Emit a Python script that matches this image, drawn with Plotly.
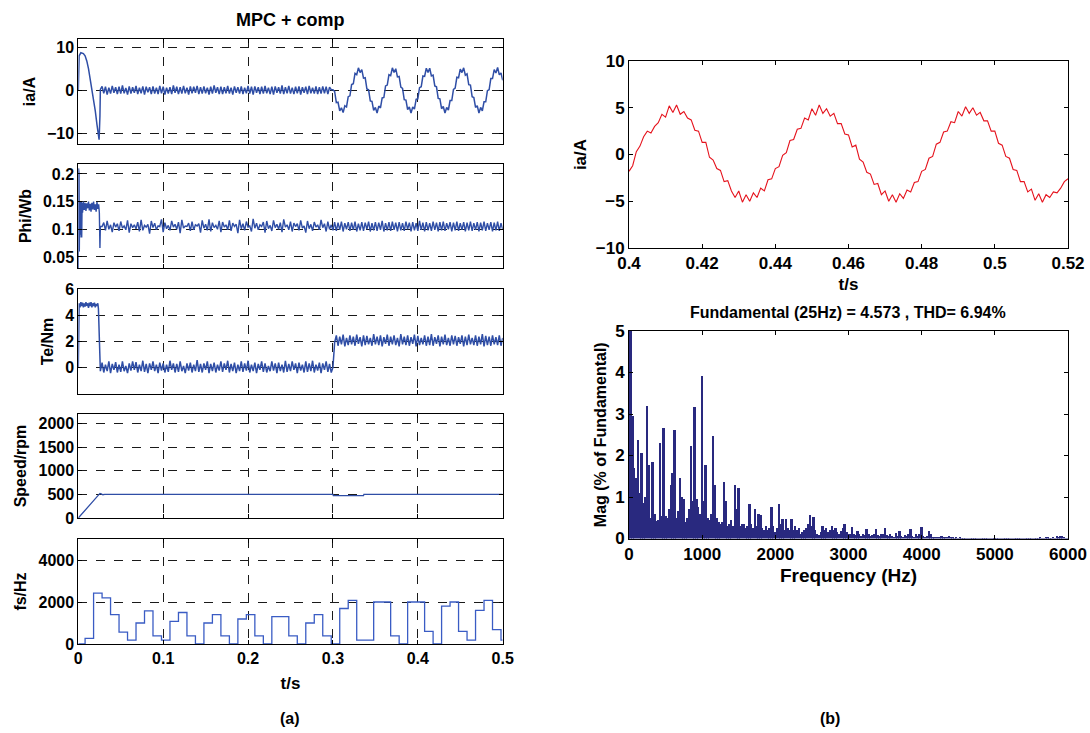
import plotly.graph_objects as go

W, H = 1090, 733

# ---------------- data: left panel (a) ----------------
# ia/A : start-up transient, flat noisy segment (0.028..0.298 s, 2 ms grid), sinusoid (0.300..0.500 s, 2 ms grid)
ia_head_t = [0.0, 0.001, 0.003, 0.006, 0.008, 0.010, 0.012, 0.014, 0.016, 0.018, 0.020, 0.022, 0.0235, 0.0245, 0.0255, 0.026]
ia_head_v = [0.0, 8.0, 8.7, 8.5, 8.0, 6.8, 5.0, 2.8, 0.3, -2.5, -4.8, -8.0, -10.5, -11.5, -6.0, 0.2]
ia_flat_start = 0.028
ia_flat_v = [
    0.9, -0.7, 0.8, -1.0, 0.6, -0.8, 1.0, -0.6, 0.7, -0.9,
    0.8, -0.8, 1.1, -0.7, 0.5, -1.0, 0.9, -0.8, 0.7, -0.6,
    1.0, -0.9, 0.6, -0.7, 0.9, -1.0, 0.8, -0.5, 0.7, -0.9,
    0.9, -0.8, 0.6, -0.9, 1.0, -0.7, 0.8, -1.0, 0.6, -0.8,
    0.7, -0.9, 1.1, -0.6, 0.8, -0.9, 0.7, -0.8, 1.0, -0.7,
    0.6, -1.0, 0.9, -0.7, 0.8, -0.6, 1.0, -0.9, 0.7, -0.8,
    0.9, -0.7, 0.6, -1.0, 0.8, -0.8, 1.1, -0.6, 0.7, -0.9,
    0.8, -0.9, 0.7, -0.7, 1.0, -0.8, 0.6, -1.0, 0.9, -0.6,
    0.7, -0.8, 0.9, -0.9, 0.6, -0.7, 1.0, -0.8, 0.8, -1.0,
    0.9, -0.6, 0.7, -0.9, 0.8, -0.8, 1.0, -0.7, 0.6, -0.9,
    0.8, -1.0, 0.9, -0.6, 0.7, -0.8, 1.1, -0.9, 0.7, -0.7,
    1.0, -0.8, 0.6, -0.9, 0.8, -0.7, 0.9, -1.0, 0.7, -0.6,
    0.8, -0.9, 1.0, -0.7, 0.6, -0.8, 0.9, -0.9, 0.7, -0.8,
    0.9, -0.7, 0.8, -0.9, 0.7, 0.1,
]
ia_wave_start = 0.300
ia_wave_v = [
    0.1, -0.3, -2.9, -2.8, -4.8, -4.1, -5.2, -3.6, -3.9, -1.5,
    -1.3, 1.3, 1.5, 3.9, 3.6, 5.2, 4.1, 4.8, 2.8, 2.9,
    0.3, 0.1, -2.5, -2.6, -4.7, -4.0, -5.3, -3.7, -4.1, -1.8,
    -1.7, 1.0, 1.2, 3.6, 3.4, 5.2, 4.1, 5.0, 3.1, 3.2,
    0.7, 0.4, -2.2, -2.3, -4.5, -3.9, -5.3, -3.9, -4.4, -2.1,
    -2.0, 0.6, 0.8, 3.3, 3.2, 5.1, 4.1, 5.1, 3.3, 3.5,
    1.0, 0.8, -1.9, -2.0, -4.3, -3.8, -5.3, -4.0, -4.6, -2.4,
    -2.4, 0.2, 0.5, 3.0, 2.9, 4.9, 4.1, 5.2, 3.5, 3.8,
    1.3, 1.2, -1.5, -1.7, -4.0, -3.6, -5.3, -4.0, -4.8, -2.7,
    -2.7, -0.1, 0.1, 2.7, 2.7, 4.8, 4.0, 5.3, 3.6, 4.0,
    2.3,
]

# Phi/Wb
phi_head_t = [0.0, 0.0003, 0.0006, 0.0009, 0.0012, 0.0016, 0.002, 0.0025, 0.003, 0.0035, 0.004, 0.0045,
              0.005, 0.006, 0.007, 0.008, 0.009, 0.010, 0.011, 0.012, 0.013, 0.014, 0.015, 0.016,
              0.017, 0.018, 0.019, 0.020, 0.021, 0.022, 0.023, 0.024, 0.0248, 0.0255, 0.026]
phi_head_v = [0.03, 0.21, 0.04, 0.20, 0.06, 0.15, 0.085, 0.15, 0.09, 0.15, 0.085, 0.148,
              0.13, 0.15, 0.135, 0.148, 0.133, 0.147, 0.138, 0.15, 0.134, 0.146, 0.132, 0.148,
              0.136, 0.15, 0.135, 0.145, 0.132, 0.149, 0.137, 0.145, 0.13, 0.066, 0.105]
phi_pre_start = 0.028
phi_pre_v = [
    0.105, 0.112, 0.098, 0.115, 0.100, 0.108, 0.095, 0.112, 0.104, 0.110,
    0.097, 0.114, 0.102, 0.106, 0.099, 0.116, 0.094, 0.110, 0.103, 0.108,
    0.101, 0.113, 0.096, 0.117, 0.098, 0.107, 0.104, 0.109, 0.092, 0.115,
    0.103, 0.111, 0.099, 0.106, 0.105, 0.118, 0.095, 0.112, 0.101, 0.107,
    0.098, 0.115, 0.104, 0.109, 0.100, 0.113, 0.093, 0.117, 0.102, 0.106,
    0.105, 0.111, 0.097, 0.114, 0.099, 0.108, 0.106, 0.110, 0.094, 0.116,
    0.102, 0.109, 0.098, 0.118, 0.096, 0.112, 0.103, 0.107, 0.100, 0.115,
    0.095, 0.113, 0.104, 0.108, 0.099, 0.116, 0.097, 0.111, 0.105, 0.109,
    0.093, 0.117, 0.101, 0.110, 0.098, 0.114, 0.104, 0.106, 0.096, 0.119,
    0.102, 0.111, 0.099, 0.108, 0.105, 0.113, 0.094, 0.115, 0.101, 0.107,
    0.097, 0.116, 0.103, 0.109, 0.100, 0.112, 0.095, 0.118, 0.104, 0.108,
    0.099, 0.114, 0.096, 0.111, 0.105, 0.110, 0.098, 0.116, 0.102, 0.106,
    0.094, 0.115, 0.101, 0.109, 0.097, 0.113, 0.104, 0.108, 0.099, 0.117,
    0.103, 0.110, 0.096, 0.114, 0.100, 0.108,
]
phi_post_start = 0.300
phi_post_v = [
    0.098, 0.113, 0.097, 0.112, 0.099, 0.114, 0.096, 0.111, 0.100, 0.113,
    0.097, 0.112, 0.099, 0.114, 0.096, 0.110, 0.098, 0.113, 0.097, 0.112,
    0.100, 0.114, 0.096, 0.111, 0.098, 0.113, 0.097, 0.112, 0.099, 0.115,
    0.096, 0.111, 0.098, 0.113, 0.097, 0.114, 0.099, 0.112, 0.096, 0.113,
    0.098, 0.111, 0.097, 0.114, 0.100, 0.112, 0.096, 0.113, 0.098, 0.111,
    0.097, 0.115, 0.099, 0.112, 0.096, 0.113, 0.098, 0.111, 0.097, 0.114,
    0.099, 0.112, 0.096, 0.113, 0.098, 0.114, 0.097, 0.111, 0.100, 0.113,
    0.096, 0.112, 0.098, 0.114, 0.097, 0.111, 0.099, 0.113, 0.096, 0.112,
    0.098, 0.114, 0.097, 0.111, 0.099, 0.113, 0.096, 0.112, 0.098, 0.114,
    0.097, 0.111, 0.099, 0.113, 0.096, 0.112, 0.098, 0.114, 0.097, 0.111,
    0.100,
]

# Te/Nm
te_head_t = [0.0, 0.0005, 0.001, 0.002, 0.003, 0.004, 0.005, 0.006, 0.007, 0.008, 0.009, 0.010, 0.011,
             0.012, 0.013, 0.014, 0.015, 0.016, 0.017, 0.018, 0.019, 0.020, 0.021, 0.022, 0.023,
             0.0237, 0.0245, 0.0252, 0.026]
te_head_v = [0.0, 4.6, 4.9, 4.6, 5.0, 4.7, 4.95, 4.6, 4.9, 4.65, 5.0, 4.7, 4.9,
             4.55, 4.95, 4.7, 5.0, 4.6, 4.9, 4.7, 4.95, 4.6, 4.85, 4.7, 4.9,
             4.5, 2.4, 0.6, -0.3]
te_low_start = 0.028
te_low_v = [
    0.35, -0.4, 0.2, -0.3, 0.45, -0.45, 0.25, -0.2, 0.4, -0.4,
    0.2, -0.35, 0.45, -0.3, 0.1, -0.45, 0.3, -0.25, 0.45, -0.2,
    0.4, -0.4, 0.2, -0.3, 0.5, -0.35, 0.25, -0.45, 0.3, -0.2,
    0.45, -0.3, 0.2, -0.45, 0.35, -0.25, 0.3, -0.4, 0.2, -0.35,
    0.5, -0.2, 0.3, -0.4, 0.25, -0.35, 0.45, -0.3, 0.1, -0.45,
    0.3, -0.25, 0.35, -0.4, 0.2, -0.3, 0.55, -0.35, 0.25, -0.4,
    0.3, -0.2, 0.45, -0.45, 0.25, -0.3, 0.35, -0.4, 0.2, -0.25,
    0.45, -0.35, 0.3, -0.2, 0.5, -0.4, 0.25, -0.3, 0.35, -0.45,
    0.2, -0.3, 0.45, -0.35, 0.3, -0.25, 0.5, -0.4, 0.2, -0.3,
    0.35, -0.45, 0.25, -0.2, 0.45, -0.35, 0.3, -0.4, 0.1, -0.3,
    0.45, -0.25, 0.3, -0.45, 0.35, -0.3, 0.2, -0.4, 0.5, -0.35,
    0.25, -0.3, 0.45, -0.2, 0.3, -0.45, 0.35, -0.25, 0.2, -0.4,
    0.45, -0.35, 0.3, -0.3, 0.5, -0.4, 0.2, -0.25, 0.35, -0.45,
    0.3, -0.2, 0.45, -0.35, 0.25, -0.4,
]
te_step_t = [0.300, 0.302]
te_step_v = [0.0, 1.9]
te_high_start = 0.304
te_high_v = [
    2.45, 1.65, 2.35, 1.75, 2.5, 1.6, 2.25, 1.7, 2.45, 1.75,
    2.35, 1.65, 2.5, 1.8, 2.3, 1.6, 2.45, 1.7, 2.4, 1.75,
    2.25, 1.65, 2.55, 1.75, 2.35, 1.7, 2.45, 1.6, 2.3, 1.8,
    2.5, 1.65, 2.35, 1.75, 2.45, 1.7, 2.25, 1.6, 2.55, 1.75,
    2.35, 1.7, 2.45, 1.65, 2.3, 1.8, 2.5, 1.6, 2.4, 1.7,
    2.25, 1.75, 2.45, 1.65, 2.35, 1.7, 2.55, 1.65, 2.3, 1.8,
    2.45, 1.6, 2.35, 1.75, 2.5, 1.7, 2.25, 1.65, 2.45, 1.75,
    2.4, 1.65, 2.3, 1.8, 2.45, 1.6, 2.35, 1.7, 2.5, 1.75,
    2.25, 1.7, 2.45, 1.65, 2.35, 1.75, 2.55, 1.6, 2.4, 1.7,
    2.35, 1.65, 2.45, 1.75, 2.3, 1.7, 2.45, 1.65, 2.25,
]

# Speed/rpm
speed_t = [0.0, 0.0255, 0.027, 0.029, 0.031, 0.300, 0.3005, 0.336, 0.3365, 0.5]
speed_v = [0, 520, 510, 492, 500, 500, 472, 472, 500, 500]

# fs/Hz (staircase, value holds until next time)
fs_t = [0.0, 0.008, 0.018, 0.028, 0.038, 0.048, 0.058, 0.068, 0.078, 0.088, 0.098, 0.108, 0.118,
        0.128, 0.138, 0.148, 0.158, 0.168, 0.178, 0.188, 0.198, 0.208, 0.218, 0.228, 0.238,
        0.248, 0.258, 0.268, 0.278, 0.288, 0.298, 0.308, 0.318, 0.328, 0.338, 0.348, 0.358,
        0.368, 0.378, 0.388, 0.398, 0.408, 0.418, 0.428, 0.438, 0.448, 0.458, 0.468, 0.478,
        0.488, 0.498, 0.5]
fs_v = [0, 270, 2420, 2200, 1400, 570, 180, 1000, 1580, 390, 180, 1080, 1500,
        390, 0, 1000, 1400, 390, 0, 1190, 1400, 390, 0, 1300, 1300,
        390, 0, 1000, 1400, 390, 0, 1690, 2080, 180, 180, 2000, 2000,
        390, 0, 2000, 2000, 600, 0, 1800, 2000, 600, 180, 1600, 2080,
        680, 180, 180]

# ---------------- data: right panel (b) ----------------
iaz_start = 0.400
iaz_step = 0.001
iaz_v = [
    -1.8, -1.2, 0.3, 0.9, 1.9, 2.5, 2.3, 3.0, 3.4, 4.3,
    4.0, 5.2, 4.5, 5.3, 4.3, 4.6, 3.9, 3.7, 2.6, 2.5,
    1.3, 1.3, -0.3, -0.6, -1.5, -1.7, -2.9, -2.8, -3.9, -4.6,
    -3.9, -5.1, -4.3, -5.0, -4.1, -4.6, -3.6, -3.9, -2.7, -2.6,
    -1.5, -1.3, -0.1, 0.2, 1.5, 1.6, 2.7, 2.8, 3.9, 3.7,
    4.9, 4.2, 5.3, 4.4, 4.9, 4.1, 4.4, 3.3, 3.3, 2.2,
    2.1, 0.8, 1.0, -0.5, -0.8, -1.9, -2.1, -3.2, -3.1, -4.3,
    -3.9, -5.0, -4.3, -5.1, -4.2, -4.7, -3.8, -4.0, -3.0, -2.9,
    -1.8, -1.6, -0.4, -0.2, 1.1, 1.3, 2.4, 2.5, 3.5, 3.4,
    4.6, 4.1, 5.1, 4.4, 5.0, 4.2, 4.5, 3.6, 3.6, 2.5,
    2.5, 1.2, 1.0, -0.2, -0.4, -1.6, -1.7, -2.9, -2.9, -4.0,
    -3.7, -4.9, -4.2, -5.1, -4.3, -4.6, -4.0, -4.1, -3.6, -2.9,
    -2.6,
]

fft_freq = list(range(0, 6001, 25))
fft_mag = [
    1.5, 100, 2.95, 1.7, 1.46, 2.38, 1.1, 2.06,          # 0-175
    0.86, 1.0, 3.2, 1.78, 0.5, 1.85, 0.58, 0.42,         # 200-375
    0.45, 2.29, 0.55, 2.66, 0.55, 0.5, 0.7, 1.28,        # 400-575
    1.57, 2.62, 0.5, 0.66, 1.46, 1.0, 0.95, 0.4,         # 600-775
    0.5, 0.7, 2.22, 0.9, 3.17, 0.94, 0.75, 0.6,          # 800-975
    3.92, 0.9, 1.76, 0.5, 0.45, 0.6, 2.46, 1.3,          # 1000-1175
    0.5, 0.4, 0.35, 0.4, 1.36, 0.9, 0.3, 0.35,           # 1200-1375
    0.45, 0.3, 1.29, 0.7, 1.22, 0.3, 0.36, 0.34,         # 1400-1575
    0.25, 0.3, 0.82, 0.35, 0.25, 0.7, 0.3, 0.58,         # 1600-1775
    0.56, 0.25, 0.2, 0.3, 0.2, 0.25, 0.76, 0.3,          # 1800-1975
    0.15, 0.25, 0.82, 0.35, 0.46, 0.2, 0.47, 0.25,       # 2000-2175
    0.2, 0.46, 0.2, 0.3, 0.2, 0.26, 0.12, 0.15,          # 2200-2375
    0.2, 0.25, 0.35, 0.56, 0.3, 0.51, 0.2, 0.1,          # 2400-2575
    0.08, 0.15, 0.31, 0.2, 0.25, 0.15, 0.2, 0.31,        # 2600-2775
    0.2, 0.26, 0.15, 0.1, 0.18, 0.25, 0.36, 0.15,        # 2800-2975
    0.12, 0.1, 0.28, 0.12, 0.08, 0.19, 0.1, 0.06,        # 3000-3175
    0.12, 0.08, 0.23, 0.1, 0.06, 0.08, 0.12, 0.22,       # 3200-3375
    0.08, 0.05, 0.1, 0.12, 0.26, 0.08, 0.05, 0.1,        # 3400-3575
    0.06, 0.04, 0.14, 0.06, 0.18, 0.05, 0.04, 0.08,      # 3600-3775
    0.05, 0.1, 0.23, 0.05, 0.03, 0.11, 0.05, 0.1,        # 3800-3975
    0.28, 0.06, 0.04, 0.05, 0.18, 0.12, 0.03, 0.02,      # 4000-4175
    0.03, 0.02, 0.03, 0.07, 0.03, 0.02, 0.03, 0.07,      # 4200-4375
    0.02, 0.02, 0.01, 0.02, 0.01, 0.04, 0.01, 0.01,      # 4400-4575
    0.01, 0.01, 0.01, 0.01, 0.01, 0.01, 0.01, 0.01,      # 4600-4775
    0.01, 0.01, 0.01, 0.01, 0.01, 0.01, 0.01, 0.01,      # 4800-4975
    0.01, 0.01, 0.01, 0.01, 0.01, 0.01, 0.01, 0.01,      # 5000-5175
    0.01, 0.01, 0.01, 0.01, 0.01, 0.01, 0.01, 0.01,      # 5200-5375
    0.01, 0.01, 0.01, 0.01, 0.01, 0.01, 0.01, 0.01,      # 5400-5575
    0.01, 0.04, 0.01, 0.01, 0.02, 0.04, 0.01, 0.01,      # 5600-5775
    0.02, 0.01, 0.05, 0.03, 0.07, 0.05, 0.02, 0.01,      # 5800-5975
    0.01,                                                # 6000
]

# ---------------- helpers ----------------
def grid(start, n, step=0.002):
    return [round(start + step * i, 5) for i in range(n)]

def px(x):
    return x / W

def py(y):
    return 1 - y / H

for a, b in [(ia_head_t, ia_head_v), (phi_head_t, phi_head_v), (te_head_t, te_head_v),
             (speed_t, speed_v), (fs_t, fs_v), (fft_freq, fft_mag), (te_step_t, te_step_v)]:
    assert len(a) == len(b), (len(a), len(b))

BLUE = "#2F4EA6"
BLUE2 = "#3A5CC4"
RED = "#E5121C"
NAVY = "#29297F"
FONT = "Liberation Sans"

ia_t = ia_head_t + grid(ia_flat_start, len(ia_flat_v)) + grid(ia_wave_start, len(ia_wave_v))
ia_v = ia_head_v + ia_flat_v + ia_wave_v
phi_t = phi_head_t + grid(phi_pre_start, len(phi_pre_v)) + grid(phi_post_start, len(phi_post_v))
phi_v = phi_head_v + phi_pre_v + phi_post_v
te_t = te_head_t + grid(te_low_start, len(te_low_v)) + te_step_t + grid(te_high_start, len(te_high_v))
te_v = te_head_v + te_low_v + te_step_v + te_high_v
iaz_t = grid(iaz_start, len(iaz_v), iaz_step)

fig = go.Figure()
fig.add_trace(go.Scatter(x=ia_t, y=ia_v, mode="lines", line=dict(color=BLUE, width=1.5), xaxis="x", yaxis="y"))
fig.add_trace(go.Scatter(x=phi_t, y=phi_v, mode="lines", line=dict(color=BLUE, width=1.4), xaxis="x2", yaxis="y2"))
fig.add_trace(go.Scatter(x=te_t, y=te_v, mode="lines", line=dict(color=BLUE, width=1.5), xaxis="x3", yaxis="y3"))
fig.add_trace(go.Scatter(x=speed_t, y=speed_v, mode="lines", line=dict(color=BLUE, width=1.3), xaxis="x4", yaxis="y4"))
fig.add_trace(go.Scatter(x=fs_t, y=fs_v, mode="lines", line=dict(color=BLUE2, width=1.3, shape="hv"), xaxis="x5", yaxis="y5"))
fig.add_trace(go.Scatter(x=iaz_t, y=iaz_v, mode="lines", line=dict(color=RED, width=1.1), xaxis="x6", yaxis="y6"))
fig.add_trace(go.Bar(x=fft_freq, y=fft_mag, marker=dict(color=NAVY, line=dict(width=0)), xaxis="x7", yaxis="y7"))

tick_font = dict(family=FONT, size=16, color="black", weight="bold")
title_font = dict(family=FONT, size=16, color="black", weight="bold")

LX = [px(78.3), px(502.7)]
left_rows = [(39, 144), (164, 268), (289, 394), (414, 518), (539, 644)]
left_y = [
    dict(title="ia/A", range=[-12.5, 11.9], tickvals=[-10, 0, 10]),
    dict(title="Phi/Wb", range=[0.03, 0.218], tickvals=[0.05, 0.1, 0.15, 0.2], ticktext=["0.05", "0.1", "0.15", "0.2"]),
    dict(title="Te/Nm", range=[-2.05, 6], tickvals=[0, 2, 4, 6]),
    dict(title="Speed/rpm", range=[0, 2200], tickvals=[0, 500, 1000, 1500, 2000]),
    dict(title="fs/Hz", range=[0, 5000], tickvals=[0, 2000, 4000]),
]

common = dict(showline=True, linecolor="black", linewidth=1, mirror="ticks", ticks="inside", ticklen=4,
              tickcolor="black", zeroline=False, tickfont=tick_font, fixedrange=True, automargin=False)
grid_style = dict(showgrid=True, gridcolor="#1a1a1a", gridwidth=1, griddash="dash")

layout = dict(template="none", width=W, height=H, margin=dict(l=0, r=0, t=0, b=0, pad=0), paper_bgcolor="white",
              plot_bgcolor="white", showlegend=False, bargap=0,
              font=dict(family=FONT, color="black"))

for i, ((top, bot), yd) in enumerate(zip(left_rows, left_y)):
    n = "" if i == 0 else str(i + 1)
    last = i == 4
    xa = dict(common, **grid_style, domain=LX, anchor="y" + n, range=[0, 0.5],
              tickvals=[0, 0.1, 0.2, 0.3, 0.4, 0.5], ticktext=["0", "0.1", "0.2", "0.3", "0.4", "0.5"],
              showticklabels=last)
    if last:
        xa["title"] = dict(text="t/s", font=dict(title_font, size=17), standoff=10)
    ya = dict(common, **grid_style, domain=[py(bot), py(top)], anchor="x" + n,
              range=yd["range"], tickvals=yd["tickvals"],
              title=dict(text=yd["title"], font=title_font, standoff=7))
    if "ticktext" in yd:
        ya["ticktext"] = yd["ticktext"]
    layout["xaxis" + n] = xa
    layout["yaxis" + n] = ya

RX = [px(629), px(1068)]
tick_font_r = dict(family=FONT, size=17, color="black", weight="bold")
layout["xaxis6"] = dict(common, domain=RX, anchor="y6", range=[0.4, 0.52], showgrid=False,
                        tickvals=[0.4, 0.42, 0.44, 0.46, 0.48, 0.5, 0.52],
                        ticktext=["0.4", "0.42", "0.44", "0.46", "0.48", "0.5", "0.52"],
                        tickfont=tick_font_r,
                        title=dict(text="t/s", font=dict(title_font, size=17), standoff=5))
layout["yaxis6"] = dict(common, domain=[py(248), py(61)], anchor="x6", range=[-10, 10], showgrid=False,
                        tickvals=[-10, -5, 0, 5, 10], tickfont=tick_font_r,
                        title=dict(text="ia/A", font=dict(title_font, size=17), standoff=4))
layout["xaxis7"] = dict(common, domain=RX, anchor="y7", range=[0, 6000], showgrid=False,
                        tickvals=[0, 1000, 2000, 3000, 4000, 5000, 6000], tickfont=tick_font_r,
                        title=dict(text="Frequency (Hz)", font=dict(title_font, size=19), standoff=5))
layout["yaxis7"] = dict(common, domain=[py(538.5), py(331)], anchor="x7", range=[0, 5], showgrid=False,
                        tickvals=[0, 1, 2, 3, 4, 5], tickfont=tick_font_r,
                        title=dict(text="Mag (% of Fundamental)", font=dict(title_font, size=16), standoff=4))

ann_font = dict(family=FONT, size=18, color="black", weight="bold")
layout["annotations"] = [
    dict(text="MPC + comp", x=px(290), y=py(20), xref="paper", yref="paper", showarrow=False,
         font=ann_font, xanchor="center", yanchor="middle"),
    dict(text="Fundamental (25Hz) = 4.573 , THD= 6.94%", x=px(848), y=py(312), xref="paper", yref="paper",
         showarrow=False, font=dict(ann_font, size=16), xanchor="center", yanchor="middle"),
    dict(text="(a)", x=px(290), y=py(718), xref="paper", yref="paper", showarrow=False,
         font=dict(ann_font, size=16), xanchor="center", yanchor="middle"),
    dict(text="(b)", x=px(830), y=py(718), xref="paper", yref="paper", showarrow=False,
         font=dict(ann_font, size=16), xanchor="center", yanchor="middle"),
]

fig.update_layout(**layout)
fig.write_html("out.html")
